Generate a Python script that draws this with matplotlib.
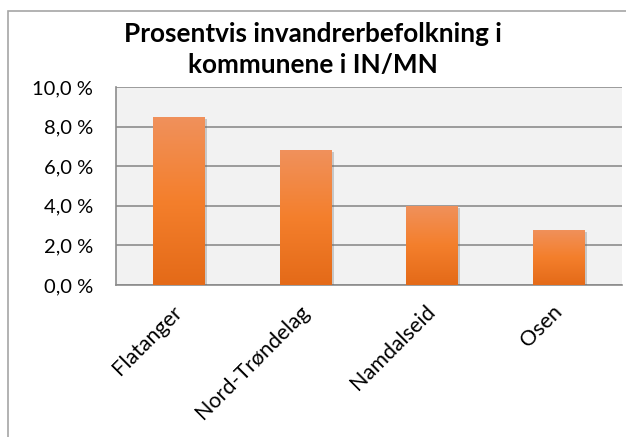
import numpy as np
import matplotlib.pyplot as plt
from matplotlib.patches import Rectangle
from matplotlib.colors import LinearSegmentedColormap
from matplotlib import patheffects

plt.rcParams['font.family'] = ['Lato', 'DejaVu Sans']

kommuner = ['Flatanger', 'Nord-Trøndelag', 'Namdalseid', 'Osen']
andel = [8.5, 6.8, 4.0, 2.8]  # prosent innvandrere
yticks = [0, 2, 4, 6, 8, 10]

fig = plt.figure(figsize=(6.26, 4.37), dpi=100)
ax = fig.add_axes([116/626, 1-285/437, 506/626, 198/437])

# outer chart border (clipped on right and bottom like the original)
fig.patches.append(Rectangle((8/626, -0.1), 1.2, 1-11/437+0.1, transform=fig.transFigure,
                             fill=False, edgecolor='#a6a6a6', linewidth=1.2))

ax.set_facecolor('#f2f2f2')
x = np.arange(len(kommuner))
bars = ax.bar(x, andel, width=0.41, color='#f47e2c', zorder=3,
              path_effects=[patheffects.SimplePatchShadow(offset=(1.5, -1.5), shadow_rgbFace='#666666', alpha=0.3),
                            patheffects.Normal()])

# vertical gradient on each bar
grad = np.linspace(0, 1, 256).reshape(-1, 1)
cmap = LinearSegmentedColormap.from_list('orange', ['#e46a18', '#f47f2c', '#f0915c'])
for b in bars:
    x0, y0 = b.get_x(), b.get_y()
    im = ax.imshow(grad, cmap=cmap, aspect='auto', origin='lower', zorder=4,
                   extent=[x0, x0 + b.get_width(), y0, y0 + b.get_height()])
    im.set_clip_path(b)

ax.set_xlim(-0.5, len(kommuner) - 0.5)
ax.set_ylim(0, 10)
ax.set_yticks(yticks)
ax.set_yticklabels([f'{v:.1f} %'.replace('.', ',') for v in yticks], fontsize=14.5)
ax.set_xticks(x)
ax.set_xticklabels(kommuner, rotation=45, ha='right', va='center', rotation_mode='anchor', fontsize=15.5)
ax.tick_params(axis='y', length=0, pad=16.5)
ax.tick_params(axis='x', length=0, pad=17)
ax.yaxis.grid(True, color='#8c8c8c', linewidth=1.2, zorder=1)
ax.set_axisbelow(True)
for s in ['top', 'right']:
    ax.spines[s].set_visible(False)
for s in ['left', 'bottom']:
    ax.spines[s].set_color('#8c8c8c')
    ax.spines[s].set_linewidth(1.2)

fig.text(0.5, 1-50/437, 'Prosentvis invandrerbefolkning i\nkommunene i IN/MN', ha='center', va='center',
         fontsize=18.8, fontweight='bold', linespacing=1.35)

fig.savefig('out.png', dpi=100)
